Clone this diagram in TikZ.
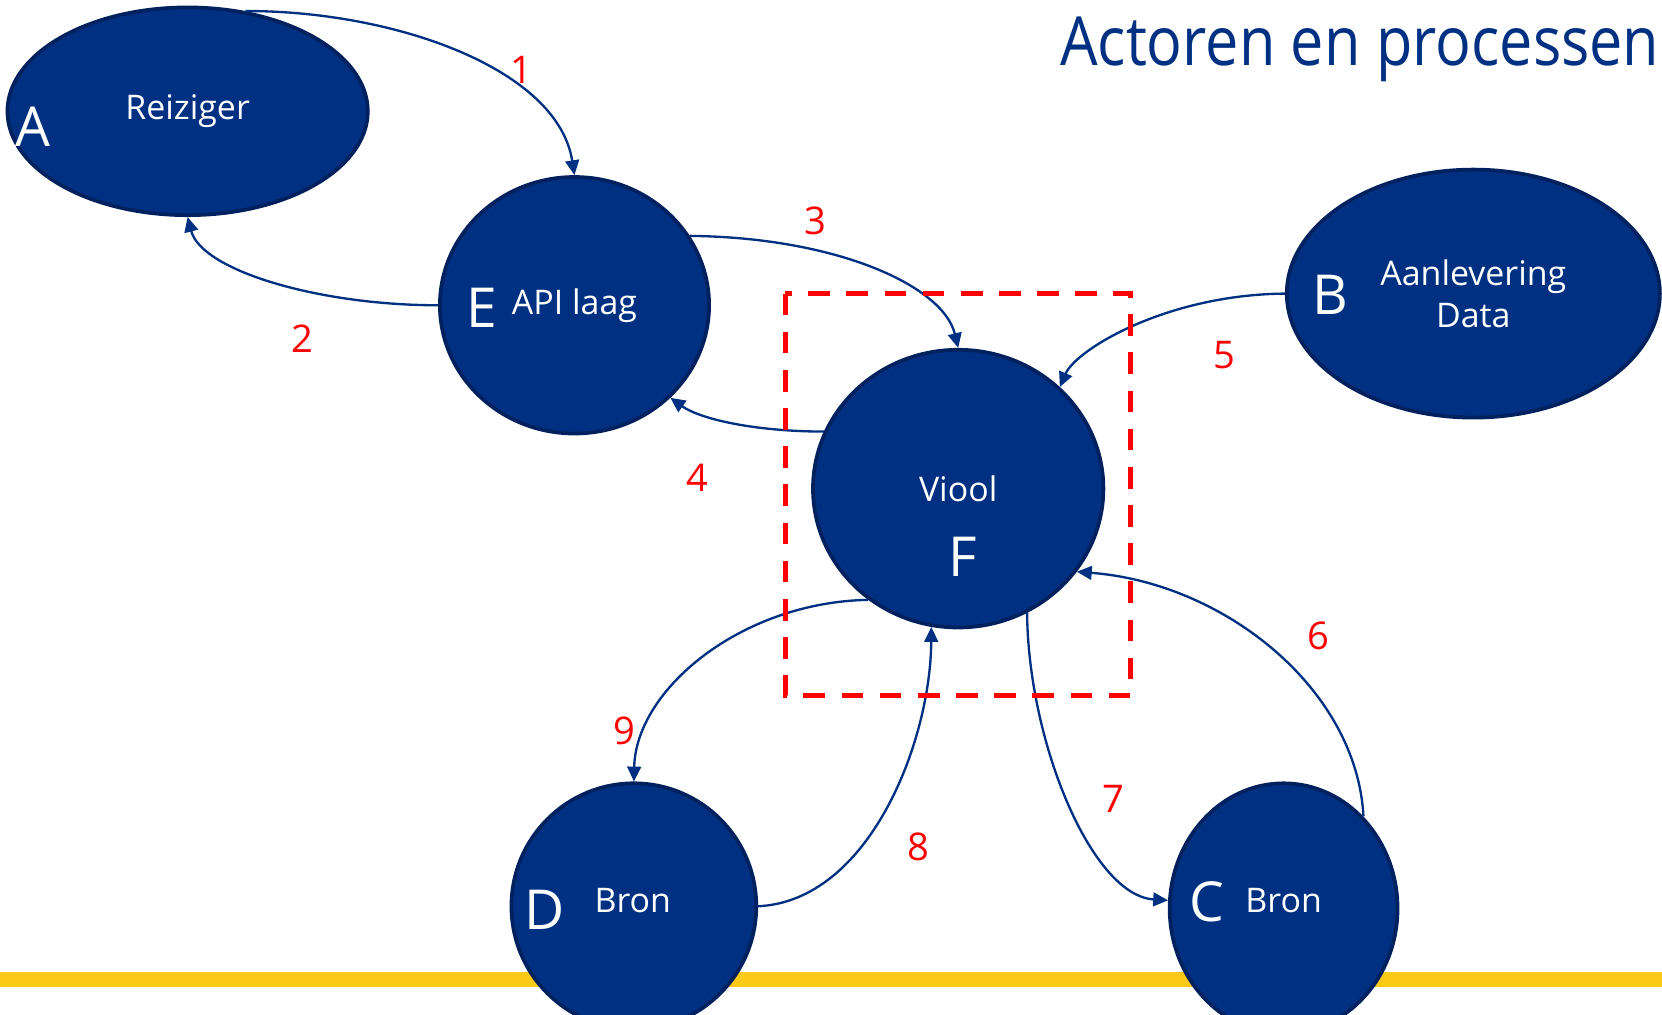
\documentclass[tikz,border=0pt]{standalone}
\usepackage{fontspec}
\setmainfont{Open Sans}
\usepackage{graphicx}
\usetikzlibrary{shapes.geometric,arrows.meta}
\definecolor{nsblue}{HTML}{003082}
\definecolor{nsedge}{HTML}{00215E}
\definecolor{nsyellow}{HTML}{FFC917}
\definecolor{labelred}{HTML}{FF0000}
\tikzset{
  actor/.style={ellipse, fill=nsblue, draw=nsedge, line width=3.5pt, text=white,
    inner sep=0pt, font=\fontsize{32}{40}\selectfont, align=center},
  letter/.style={text=white, inner sep=0pt, font=\fontsize{52}{60}\selectfont},
  flow/.style={draw=nsblue, line width=2.2pt, -{Triangle[length=14pt,width=13pt]}},
  stepnum/.style={text=labelred, inner sep=0pt, font=\fontsize{36}{40}\selectfont},
  scopebox/.style={draw=labelred, line width=4.7pt, dash pattern=on 20.5pt off 15.5pt},
}
\begin{document}
\begin{tikzpicture}[x=1pt,y=-1pt]
\useasboundingbox (0,0) rectangle (1568,957);

% yellow base line
\fill[nsyellow] (0,917) rectangle (1568,931);

% title
\node[anchor=base west, text=nsblue, inner sep=0pt] (title) at (1000,62)
  {\scalebox{0.875}[1]{\fontsize{64}{70}\selectfont Actoren en processen}};

% actors
\node[actor, minimum width=340pt, minimum height=196pt] (A) at (177,105) {Reiziger};
\node[actor, minimum width=254pt, minimum height=242pt] (E) at (542,288) {API laag};
\node[actor, minimum width=274pt, minimum height=262pt] (F) at (904,461) {Viool};
\node[actor, minimum width=352pt, minimum height=234pt] (B) at (1390,277) {Aanlevering\\Data};
\node[actor, minimum width=231pt, minimum height=232pt] (D) at (598,855) {};
\node[actor, minimum width=215pt, minimum height=236pt] (C) at (1211,857) {};
\node[text=white, inner sep=0pt, font=\fontsize{32}{40}\selectfont] (Dtext) at (597,850) {Bron};
\node[text=white, inner sep=0pt, font=\fontsize{32}{40}\selectfont] (Ctext) at (1211,850) {Bron};

% actor letters
\node[letter] (Aletter) at (31,120) {A};
\node[letter] (Eletter) at (455,290) {E};
\node[letter] (Fletter) at (908,525) {F};
\node[letter] (Bletter) at (1255,278) {B};
\node[letter] (Dletter) at (514,858) {D};
\node[letter] (Cletter) at (1139,851) {C};

% process flows
\draw[flow] (A.60) .. controls (370,10) and (526,64) .. (E.north);
\draw[flow] (E.west) .. controls (300,288) and (190,255) .. (A.south);
\draw[flow] (E.31) .. controls (790,224) and (890,270) .. (F.north);
\draw[flow] (F.157) .. controls (710,407) and (660,395) .. (E.-44);
\draw[flow] (B.west) .. controls (1100,278) and (1015,330) .. (F.45);
\draw[flow] (C.49) .. controls (1280,650) and (1155,550) .. (F.-35);
\draw[flow] (F.-61) .. controls (970,700) and (1030,845) .. (C.176);
\draw[flow] (D.east) .. controls (820,850) and (878,700) .. (F.-101);
\draw[flow] (F.-129) .. controls (700,568) and (600,650) .. (D.north);

% scope of the Viool component
\draw[scopebox] (741,277) rectangle (1067,656);

% step numbers
\node[stepnum] (n1) at (492,66) {1};
\node[stepnum] (n2) at (285,320) {2};
\node[stepnum] (n3) at (769,208) {3};
\node[stepnum] (n4) at (658,451) {4};
\node[stepnum] (n5) at (1155,335) {5};
\node[stepnum] (n6) at (1244,600) {6};
\node[stepnum] (n7) at (1050,754) {7};
\node[stepnum] (n8) at (866,799) {8};
\node[stepnum] (n9) at (589,690) {9};
\end{tikzpicture}
\end{document}
